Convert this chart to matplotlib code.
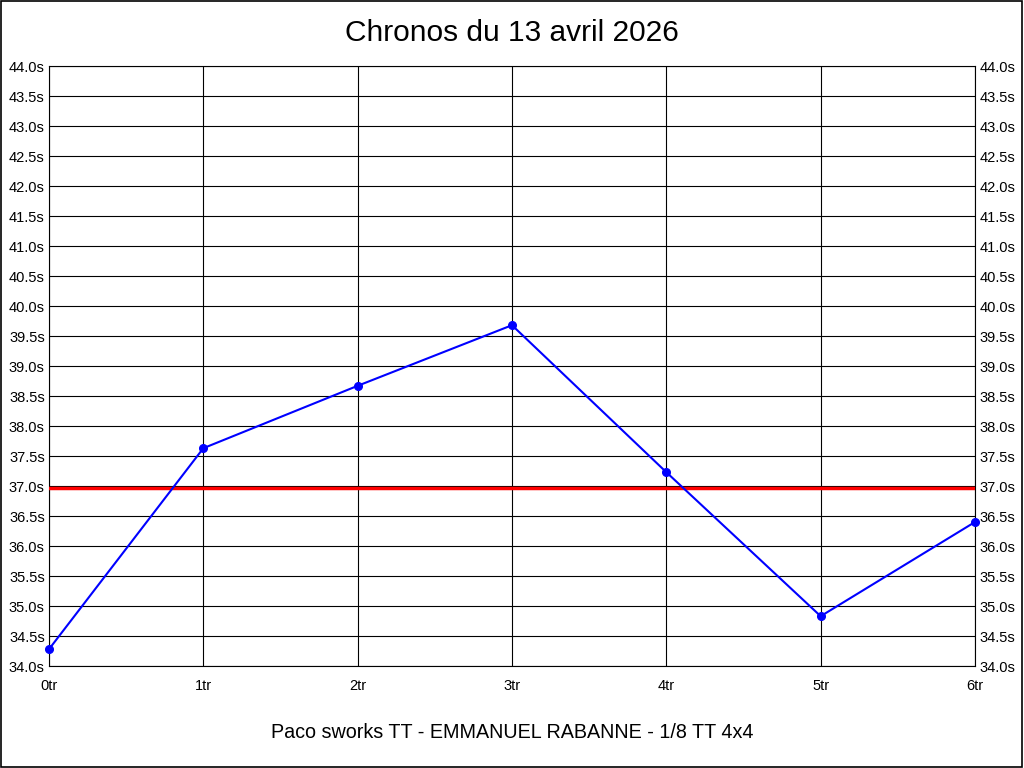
import matplotlib
matplotlib.use("Agg")
import matplotlib.pyplot as plt
from matplotlib.patches import Rectangle

plt.rcParams['font.family'] = ['Liberation Sans', 'DejaVu Sans']

# data
laps = [0, 1, 2, 3, 4, 5, 6]
lap_labels = ["0tr", "1tr", "2tr", "3tr", "4tr", "5tr", "6tr"]
times = [34.28, 37.63, 38.67, 39.68, 37.23, 34.83, 36.40]
y_ticks = [34.0 + 0.5 * i for i in range(21)]
mean_time = sum(times) / len(times)

fig = plt.figure(figsize=(10.24, 7.68), dpi=100)
ax = fig.add_axes([49 / 1024, 1 - 666 / 768, (975 - 49) / 1024, 600 / 768])

ax.plot(laps, times, color="#0000ff", lw=1.5, marker="o", ms=5.5, zorder=4, clip_on=False)
ax.axhline(mean_time, color="#ff0000", lw=2.5, zorder=3)

ax.set_xlim(0, 6)
ax.set_ylim(34, 44)
ax.set_xticks(laps)
ax.set_xticklabels(lap_labels)
ax.set_yticks(y_ticks)
ax.set_yticklabels(["%.1fs" % v for v in y_ticks])
ax.tick_params(axis="both", length=0, labelsize=10.5, pad=3)
ax.tick_params(axis="y", labelright=True, right=False)
ax.tick_params(axis="x", pad=9)
ax.grid(True, color="black", lw=0.8)
for s in ax.spines.values():
    s.set_color("black")
    s.set_linewidth(0.8)

fig.text(0.5, 1 - 33 / 768, "Chronos du 13 avril 2026", ha="center", va="center", fontsize=21.5)
fig.text(0.5, 1 - 733 / 768, "Paco sworks TT - EMMANUEL RABANNE - 1/8 TT 4x4",
         ha="center", va="center", fontsize=14.2)

fig.patches.append(Rectangle((0.0005, 0.0007), 0.998, 0.998, transform=fig.transFigure,
                             fill=False, edgecolor="black", lw=1.2))

fig.savefig("out.png", dpi=100, facecolor="white")
